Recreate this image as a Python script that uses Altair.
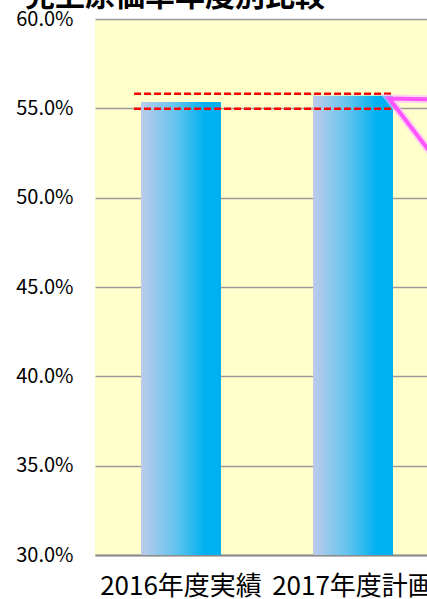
import altair as alt
import pandas as pd

# Categories and cost-of-sales ratios
categories = ["2016年度実績", "2017年度計画"]
ratios = [0.5535, 0.5570]

# Dashed red reference levels and their horizontal span (in category units)
ref_levels = [0.5582, 0.5497]
ref_start = [0.227, 0.227]
ref_end = [1.721, 1.721]

# Magenta callout pointer (category units, ratio)
callout_x = [2.0, 1.71, 2.0]
callout_y = [0.5549, 0.5555, 0.5190]
callout_order = [0, 1, 2]

title_text = "売上原価率年度別比較"
label_font = "Noto Sans CJK JP, sans-serif"

bars_df = pd.DataFrame({"category": categories, "ratio": ratios})
ref_df = pd.DataFrame({"level": ref_levels, "start": ref_start, "end": ref_end})
callout_df = pd.DataFrame({"x": callout_x, "y": callout_y, "order": callout_order})

y_scale = alt.Scale(domain=[0.30, 0.60], nice=False, zero=False)
u_scale = alt.Scale(domain=[0, 2], range=[0, 344], nice=False, zero=False)

bar_gradient = alt.Gradient(
    gradient="linear",
    x1=0, x2=1, y1=0, y2=0,
    stops=[
        alt.GradientStop(color="#BCCBEB", offset=0),
        alt.GradientStop(color="#5FC3EE", offset=0.45),
        alt.GradientStop(color="#00B0F0", offset=0.8),
        alt.GradientStop(color="#00B0F0", offset=1),
    ],
)

bars = alt.Chart(bars_df).mark_bar(color=bar_gradient, clip=True).encode(
    x=alt.X(
        "category:N",
        sort=categories,
        scale=alt.Scale(range=[0, 344], paddingInner=0.535, paddingOuter=0.2675),
        axis=alt.Axis(
            title=None,
            labelAngle=0,
            labelFont=label_font,
            labelFontSize=26,
            labelColor="#000000",
            labelPadding=18,
            ticks=False,
            domain=True,
            domainColor="#8C8C8C",
            domainWidth=2,
            grid=False,
        ),
    ),
    y=alt.Y(
        "ratio:Q",
        scale=y_scale,
        axis=alt.Axis(
            title=None,
            format=".1%",
            values=[0.30, 0.35, 0.40, 0.45, 0.50, 0.55, 0.60],
            labelFont=label_font,
            labelFontSize=20,
            labelColor="#000000",
            labelPadding=22,
            ticks=False,
            domain=False,
            grid=True,
            gridColor="#9A9A9A",
            gridWidth=1.5,
        ),
    ),
)

ref_lines = alt.Chart(ref_df).mark_rule(
    color="#FF0000", strokeWidth=2.5, strokeDash=[7, 3]
).encode(
    x=alt.X("start:Q", scale=u_scale, axis=None),
    x2="end:Q",
    y=alt.Y("level:Q", scale=y_scale),
)

callout_glow = alt.Chart(callout_df).mark_line(
    color="#FFB8FF", strokeWidth=8, opacity=0.6, clip=True
).encode(
    x=alt.X("x:Q", scale=u_scale, axis=None),
    y=alt.Y("y:Q", scale=y_scale),
    order="order:Q",
)

callout = alt.Chart(callout_df).mark_line(
    color="#FF55FF", strokeWidth=4, clip=True
).encode(
    x=alt.X("x:Q", scale=u_scale, axis=None),
    y=alt.Y("y:Q", scale=y_scale),
    order="order:Q",
)

chart = (
    alt.layer(bars, ref_lines, callout_glow, callout)
    .resolve_scale(x="independent")
    .properties(
        width=332,
        height=536,
        autosize=alt.AutoSizeParams(type="none"),
        padding={"left": 95, "top": 19, "right": 0, "bottom": 44},
        title=alt.TitleParams(
            text=title_text,
            anchor="start",
            frame="group",
            font="Noto Sans CJK JP",
            fontSize=30,
            fontWeight="bold",
            color="#000000",
            dx=-70,
            dy=33,
            offset=0,
            baseline="bottom",
        ),
    )
    .configure(background="#FFFFFF")
    .configure_view(fill="#FFFFCC", stroke=None)
)

chart.save("out.html", embed_options={"renderer": "svg", "actions": False})
